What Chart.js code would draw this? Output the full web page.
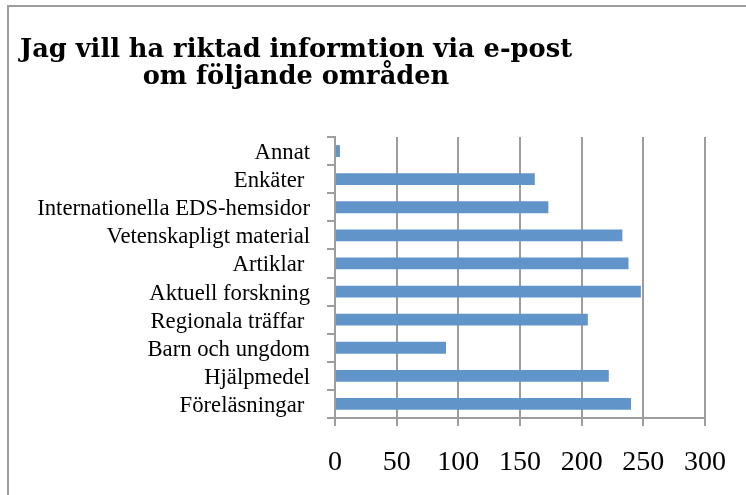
<!DOCTYPE html>
<html>
<head>
<meta charset="utf-8">
<script src="https://cdn.jsdelivr.net/npm/chart.js@4"></script>
<style>
  body { margin: 0; background: #fff; }
  canvas { display: block; }
</style>
</head>
<body>
<canvas id="chart" width="746" height="495"></canvas>
<script>
const titleLines = ['Jag vill ha riktad informtion via e-post', 'om följande områden'];

const categories = [
  'Annat',
  'Enkäter ',
  'Internationella EDS-hemsidor',
  'Vetenskapligt material',
  'Artiklar ',
  'Aktuell forskning',
  'Regionala träffar ',
  'Barn och ungdom',
  'Hjälpmedel',
  'Föreläsningar ',
];

const values = [4, 162, 173, 233, 238, 248, 205, 90, 222, 240];

const xMin = 0;
const xMax = 300;
const xStep = 50;

const gridGray = '#9d9d9d';

// frame + title drawn straight on the canvas
const framePlugin = {
  id: 'frame',
  beforeDraw(chart) {
    const ctx = chart.ctx;
    ctx.save();
    ctx.strokeStyle = gridGray;
    ctx.lineWidth = 2;
    ctx.beginPath();
    ctx.moveTo(8, 495);
    ctx.lineTo(8, 6);
    ctx.lineTo(746, 6);
    ctx.stroke();
    ctx.restore();
  },
  afterDraw(chart) {
    const ctx = chart.ctx;
    ctx.save();
    ctx.fillStyle = '#000';
    ctx.font = 'bold 25.7px "DejaVu Serif"';
    ctx.textAlign = 'center';
    ctx.textBaseline = 'alphabetic';
    titleLines.forEach((line, i) => {
      ctx.fillText(line, 296, 57 + i * 27);
    });
    ctx.restore();
  },
};

const ctx = document.getElementById('chart');

new Chart(ctx, {
  type: 'bar',
  data: {
    labels: categories,
    datasets: [
      {
        data: values,
        backgroundColor: '#6195c9',
        borderWidth: 0,
        barPercentage: 1,
        categoryPercentage: 0.42,
      },
    ],
  },
  options: {
    indexAxis: 'y',
    responsive: false,
    animation: false,
    layout: {
      padding: { top: 137, right: 39, bottom: 0, left: 0 },
    },
    plugins: {
      legend: { display: false },
      tooltip: { enabled: false },
      title: { display: false },
    },
    scales: {
      x: {
        min: xMin,
        max: xMax,
        ticks: {
          stepSize: xStep,
          color: '#000',
          padding: 20,
          font: { family: '"Liberation Serif"', size: 28 },
        },
        grid: {
          color: gridGray,
          lineWidth: 2,
          tickLength: 8,
        },
        border: { color: gridGray, width: 2 },
        afterFit(scale) {
          scale.height = 77;
        },
      },
      y: {
        ticks: {
          color: '#000',
          padding: 17,
          labelOffset: 2,
          autoSkip: false,
          font: { family: '"Liberation Serif"', size: 22.7 },
        },
        grid: {
          drawOnChartArea: false,
          color: gridGray,
          lineWidth: 2,
          tickLength: 8,
        },
        border: { color: gridGray, width: 2 },
        afterFit(scale) {
          scale.width = 335;
        },
      },
    },
  },
  plugins: [framePlugin],
});
</script>
</body>
</html>
